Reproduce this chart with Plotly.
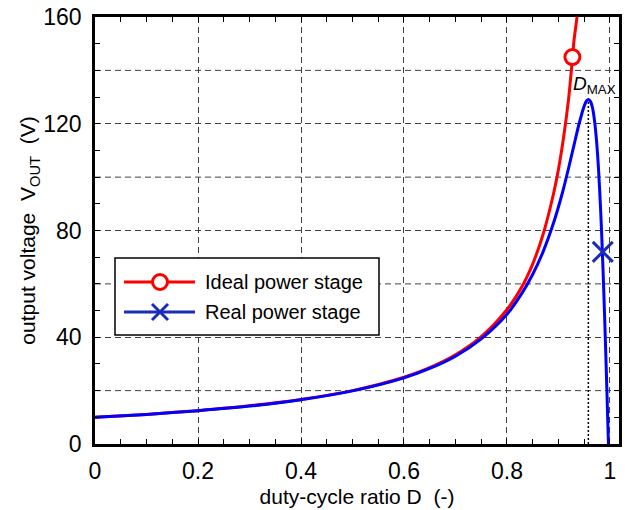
import plotly.graph_objects as go

# ---------------- data ----------------
d_ideal = [0.0, 0.1, 0.2, 0.3, 0.4, 0.5, 0.6, 0.65, 0.7, 0.75, 0.8, 0.83, 0.85,
           0.87, 0.89, 0.90, 0.91, 0.92, 0.925, 0.93, 0.935, 0.94]
v_ideal = [10.0, 11.1, 12.5, 14.3, 16.7, 20.0, 25.0, 28.6, 33.4, 40.2, 50.4, 59.3, 67.5,
           78.5, 93.5, 103.0, 115.0, 130.0, 140.0, 151.0, 158.5, 167.0]

d_real = [0.0, 0.1, 0.2, 0.3, 0.4, 0.5, 0.6, 0.65, 0.7, 0.75, 0.8, 0.83, 0.85,
          0.87, 0.89, 0.90, 0.91, 0.92, 0.93, 0.94, 0.95, 0.955, 0.958, 0.962,
          0.966, 0.970, 0.974, 0.978, 0.982, 0.985, 0.988, 0.991, 0.994, 0.997]
v_real = [10.0, 11.1, 12.5, 14.2, 16.6, 19.9, 24.8, 28.3, 32.9, 39.4, 48.6, 56.8, 63.6,
          72.0, 82.6, 88.9, 95.9, 103.7, 111.9, 120.0, 126.7, 128.7, 129.1, 128.4,
          126.0, 121.1, 113.3, 102.1, 87.0, 73.0, 56.9, 39.1, 19.9, 0.0]

ideal_marker_d = [0.927]
ideal_marker_v = [145.0]
real_marker_d = [0.986]
real_marker_v = [72.0]

x_tick_vals = [0.0, 0.2, 0.4, 0.6, 0.8, 1.0]
x_tick_text = ["0", "0.2", "0.4", "0.6", "0.8", "1"]
y_tick_vals = [0, 40, 80, 120, 160]
y_tick_text = ["0", "40", "80", "120", "160"]
y_extra_grid = [20, 60, 100, 140]

series_names = ["Ideal power stage", "Real power stage"]

# ---------------- styles ----------------
RED = "#ff0000"
BLUE = "#0000ff"
XBLUE = "#1a2db8"
GRID = "#404040"
FONT = "Arial, Liberation Sans, sans-serif"

i_max = v_real.index(max(v_real))
d_max = d_real[i_max]
v_max = v_real[i_max]

fig = go.Figure()
fig.add_trace(go.Scatter(x=d_ideal, y=v_ideal, mode="lines",
                         line=dict(color=RED, width=3, shape="spline", smoothing=0.8),
                         name=series_names[0], hoverinfo="skip"))
fig.add_trace(go.Scatter(x=d_real, y=v_real, mode="lines",
                         line=dict(color=BLUE, width=3, shape="spline", smoothing=0.8),
                         name=series_names[1], hoverinfo="skip"))
fig.add_trace(go.Scatter(x=ideal_marker_d, y=ideal_marker_v, mode="markers",
                         marker=dict(symbol="circle", size=15, color="white",
                                     line=dict(color=RED, width=3)),
                         showlegend=False, hoverinfo="skip"))
fig.add_trace(go.Scatter(x=real_marker_d, y=real_marker_v, mode="markers",
                         marker=dict(symbol="x-thin", size=20, color=XBLUE,
                                     line=dict(color=XBLUE, width=3)),
                         showlegend=False, hoverinfo="skip"))

axis_common = dict(
    ticks="inside", ticklen=5, tickwidth=1, tickcolor="black",
    showline=True, linecolor="black", linewidth=2.5, mirror="ticks",
    showgrid=True, gridcolor=GRID, gridwidth=1, griddash="6px,4px",
    zeroline=False, tickfont=dict(size=23, family=FONT, color="black"),
)

fig.update_xaxes(
    range=[0, 1.0175], tickmode="array", tickvals=x_tick_vals, ticktext=x_tick_text,
    minor=dict(dtick=0.05, tick0=0, ticks="inside", ticklen=5, tickcolor="black",
               tickwidth=1, showgrid=False),
    title=dict(text="duty-cycle ratio D\u00a0\u00a0(-)",
               font=dict(size=21, family=FONT, color="black"), standoff=6),
    ticklabelstandoff=5,
    **axis_common)
fig.update_yaxes(
    range=[0, 160], tickmode="array", tickvals=y_tick_vals, ticktext=y_tick_text,
    minor=dict(dtick=10, tick0=0, ticks="inside", ticklen=5, tickcolor="black",
               tickwidth=1, showgrid=False),
    title=dict(text="output voltage\u00a0\u00a0V<sub>OUT</sub>\u00a0\u00a0(V)",
               font=dict(size=21, family=FONT, color="black"), standoff=2),
    ticklabelstandoff=6,
    **axis_common)

shapes = []
# remaining horizontal grid lines (every 20 V)
for gy in y_extra_grid:
    shapes.append(dict(type="line", xref="paper", yref="y", x0=0, x1=1, y0=gy, y1=gy,
                       line=dict(color=GRID, width=1, dash="6px,4px"), layer="below"))
# D_MAX dotted marker line
shapes.append(dict(type="line", xref="x", yref="y", x0=d_max, x1=d_max, y0=0, y1=v_max,
                   line=dict(color="black", width=1.5, dash="2px,2px"), layer="between"))

# custom legend (paper coordinates)
PW, PH = 524.0, 427.0
def px(x):
    return (x - 95) / PW
def py(y):
    return (444 - y) / PH

shapes.append(dict(type="rect", xref="paper", yref="paper",
                   x0=px(115), x1=px(379), y0=py(335), y1=py(258),
                   line=dict(color="black", width=1.5), fillcolor="white", layer="above"))
rows = [(282, RED), (312, XBLUE)]
for yy, col in rows:
    shapes.append(dict(type="line", xref="paper", yref="paper",
                       x0=px(124), x1=px(195), y0=py(yy), y1=py(yy),
                       line=dict(color=col, width=3), layer="above"))
# circle symbol
shapes.append(dict(type="circle", xref="paper", yref="paper",
                   xsizemode="pixel", ysizemode="pixel",
                   xanchor=px(160), yanchor=py(282),
                   x0=-7.5, x1=7.5, y0=-7.5, y1=7.5,
                   line=dict(color=RED, width=3), fillcolor="white", layer="above"))
# x symbol
for sgn in (1, -1):
    shapes.append(dict(type="line", xref="paper", yref="paper",
                       xsizemode="pixel", ysizemode="pixel",
                       xanchor=px(160), yanchor=py(312),
                       x0=-8, x1=8, y0=-8 * sgn, y1=8 * sgn,
                       line=dict(color=XBLUE, width=3), layer="above"))

annotations = [
    dict(x=px(203), y=py(282), xref="paper", yref="paper", text=series_names[0],
         showarrow=False, xanchor="left", yanchor="middle",
         font=dict(size=20, family=FONT, color="black")),
    dict(x=px(203), y=py(312), xref="paper", yref="paper", text=series_names[1],
         showarrow=False, xanchor="left", yanchor="middle",
         font=dict(size=20, family=FONT, color="black")),
    dict(x=d_max, y=v_max, xref="x", yref="y", text="<i>D</i><sub>MAX</sub>",
         showarrow=False, xanchor="left", yanchor="bottom", xshift=-17, yshift=0,
         font=dict(size=19, family=FONT, color="black")),
]

fig.update_layout(
    width=634, height=510,
    margin=dict(l=95, r=15, t=17, b=66, autoexpand=False),
    plot_bgcolor="white", paper_bgcolor="white",
    showlegend=False,
    font=dict(family=FONT, color="black"),
    shapes=shapes, annotations=annotations,
)

fig.write_html("out.html")
